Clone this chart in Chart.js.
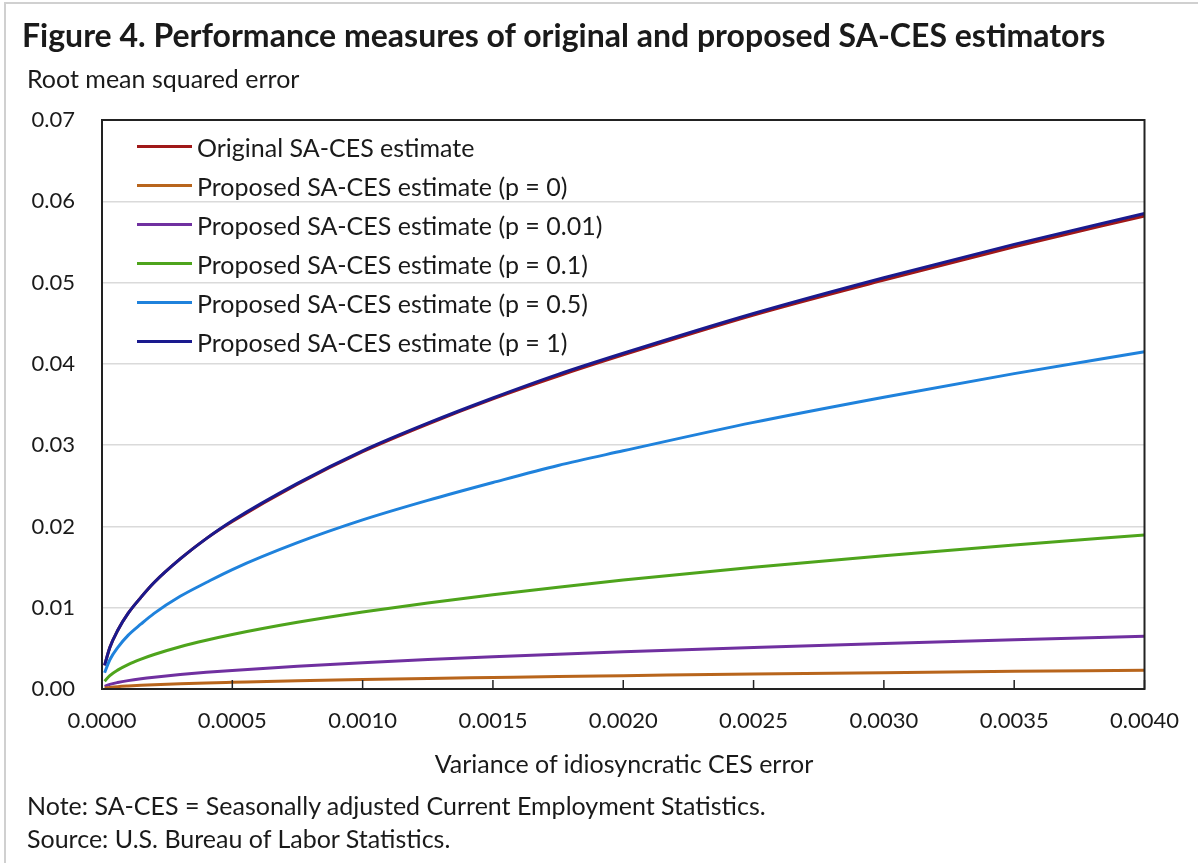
<!DOCTYPE html>
<html>
<head>
<meta charset="utf-8">
<script src="https://cdn.jsdelivr.net/npm/chart.js@4.4.0/dist/chart.umd.min.js"></script>
<style>
    html, body { margin: 0; padding: 0; background: #fff; }
    body { width: 1198px; height: 863px; position: relative; overflow: hidden; font-family: Lato, "Noto Sans", sans-serif; color: #1a1a1a; }
    #frame { position: absolute; left: 4px; top: 2px; right: -10px; bottom: -10px; border-left: 2px solid #d0d0d0; border-top: 2px solid #d0d0d0; }
    #wrap { position: absolute; left: 0; top: 0; width: 1198px; height: 863px; }
    .txt { position: absolute; white-space: nowrap; line-height: 30px; }
    #title { left: 22px; top: 16px; font-size: 32px; line-height: 38px; font-weight: bold; }
    #ylab { left: 27px; top: 63px; font-size: 25px; }
    #xlab { left: 624px; top: 748px; font-size: 25px; transform: translateX(-50%); }
    #note { left: 27px; top: 790px; font-size: 25px; }
    #source { left: 27px; top: 823px; font-size: 25px; }
    #legend { position: absolute; left: 137px; top: 127px; font-size: 25px; }
    .item { height: 39px; display: flex; align-items: center; white-space: nowrap; }
    .swatch { width: 55px; height: 3px; margin-right: 5px; }
</style>
</head>
<body>
<div id="frame"></div>
<div id="wrap"><canvas id="chart" width="1198" height="863"></canvas></div>
<div class="txt" id="title">Figure 4. Performance measures of original and proposed SA-CES estimators</div>
<div class="txt" id="ylab">Root mean squared error</div>
<div class="txt" id="xlab">Variance of idiosyncratic CES error</div>
<div class="txt" id="note">Note: SA-CES = Seasonally adjusted Current Employment Statistics.</div>
<div class="txt" id="source">Source: U.S. Bureau of Labor Statistics.</div>
<div id="legend"></div>
<script>
// ---------------------------------------------------------------------------
// Data (x = variance, y = RMSE)
// ---------------------------------------------------------------------------

const variance = [0.00001, 0.00003, 0.00006, 0.0001, 0.00015, 0.0002, 0.0003, 0.0004, 0.0005,
                  0.00075, 0.001, 0.00125, 0.0015, 0.00175, 0.002, 0.0025, 0.003, 0.0035, 0.004];

const original = [0.0029, 0.0051, 0.0072, 0.0093, 0.0113, 0.0131, 0.0160, 0.0185, 0.0206,
                  0.0252, 0.0292, 0.0326, 0.0357, 0.0385, 0.0411, 0.0460, 0.0503, 0.0544, 0.0582];
const proposedP0 = [0.00012, 0.0002, 0.00029, 0.00037, 0.00045, 0.00052, 0.00064, 0.00074, 0.00082,
                    0.00101, 0.00116, 0.0013, 0.00142, 0.00154, 0.00164, 0.00184, 0.00201, 0.00217, 0.00232];
const proposedP001 = [0.00033, 0.00057, 0.0008, 0.00103, 0.00126, 0.00145, 0.00178, 0.00205, 0.00229,
                      0.00281, 0.00324, 0.00362, 0.00397, 0.00429, 0.00458, 0.00512, 0.00561, 0.00606, 0.00648];
const proposedP01 = [0.00095, 0.00164, 0.00232, 0.003, 0.00367, 0.00424, 0.00519, 0.00599, 0.0067,
                     0.0082, 0.00947, 0.01059, 0.0116, 0.01253, 0.0134, 0.01497, 0.0164, 0.01772, 0.01894];
const proposedP05 = [0.0020, 0.0036, 0.0051, 0.0066, 0.0080, 0.0093, 0.0114, 0.0131, 0.0147,
                     0.0180, 0.0208, 0.0232, 0.0254, 0.0275, 0.0293, 0.0328, 0.0359, 0.0388, 0.0415];
const proposedP1 = [0.0029, 0.0051, 0.0072, 0.0093, 0.0113, 0.0131, 0.0160, 0.0185, 0.0207,
                    0.0253, 0.0293, 0.0327, 0.0358, 0.0387, 0.0413, 0.0462, 0.0506, 0.0547, 0.0585];

const seriesLabels = ['Original SA-CES estimate', 'Proposed SA-CES estimate (p = 0)',
                      'Proposed SA-CES estimate (p = 0.01)', 'Proposed SA-CES estimate (p = 0.1)',
                      'Proposed SA-CES estimate (p = 0.5)', 'Proposed SA-CES estimate (p = 1)'];
const seriesColors = ['#a01818', '#b8651c', '#7030a0', '#4ea41c', '#1f82dc', '#1a1a8e'];
const seriesValues = [original, proposedP0, proposedP001, proposedP01, proposedP05, proposedP1];

// Chart area in page pixels
const AREA = { left: 102, top: 120, right: 1147, bottom: 689 };

// ---------------------------------------------------------------------------
// Legend (HTML, overlaid inside the plot)
// ---------------------------------------------------------------------------

const legendEl = document.getElementById('legend');
seriesLabels.forEach((lbl, i) => {
    const row = document.createElement('div');
    row.className = 'item';
    row.innerHTML = '<span class="swatch" style="background:' + seriesColors[i] + '"></span><span>' + lbl + '</span>';
    legendEl.appendChild(row);
});

// Frame around plot + inward x ticks
const framePlugin = {
    id: 'frame',
    afterDatasetsDraw(chart) {
        const { ctx, chartArea: a, scales } = chart;
        ctx.save();
        ctx.strokeStyle = '#222';
        ctx.lineWidth = 2;
        ctx.strokeRect(a.left, a.top, a.right - a.left, a.bottom - a.top);
        ctx.lineWidth = 1.5;
        scales.x.ticks.forEach(t => {
            const px = scales.x.getPixelForValue(t.value);
            ctx.beginPath();
            ctx.moveTo(px, a.bottom);
            ctx.lineTo(px, a.bottom - 9);
            ctx.stroke();
        });
        ctx.restore();
    }
};

new Chart(document.getElementById('chart'), {
    type: 'line',
    data: {
        datasets: seriesValues.map((vals, i) => ({
            label: seriesLabels[i],
            data: variance.map((v, j) => ({ x: v, y: vals[j] })),
            borderColor: seriesColors[i],
            backgroundColor: seriesColors[i],
            borderWidth: 3,
            pointRadius: 0,
            cubicInterpolationMode: 'monotone',
            order: i === 0 ? 1 : 0,
        }))
    },
    options: {
        responsive: false,
        animation: false,
        devicePixelRatio: 1,
        layout: { padding: { left: 0, top: AREA.top, right: 1198 - AREA.right, bottom: 0 } },
        plugins: { legend: { display: false }, tooltip: { enabled: false } },
        scales: {
            x: {
                type: 'linear',
                min: 0, max: 0.004,
                ticks: {
                    stepSize: 0.0005,
                    color: '#1a1a1a',
                    font: { family: 'Lato', size: 22 },
                    padding: 19,
                    maxRotation: 0,
                    autoSkip: false,
                    callback: v => v.toFixed(4),
                },
                grid: { display: false, drawTicks: false },
                border: { display: false },
                afterFit: s => { s.height = 863 - AREA.bottom; },
            },
            y: {
                min: 0, max: 0.07,
                ticks: {
                    stepSize: 0.01,
                    color: '#1a1a1a',
                    font: { family: 'Lato', size: 22 },
                    padding: 27,
                    callback: v => v.toFixed(2),
                },
                grid: { color: '#dadada', lineWidth: 1.5, drawTicks: false },
                border: { display: false },
                afterFit: s => { s.width = AREA.left; },
            }
        }
    },
    plugins: [framePlugin],
});
</script>
</body>
</html>
